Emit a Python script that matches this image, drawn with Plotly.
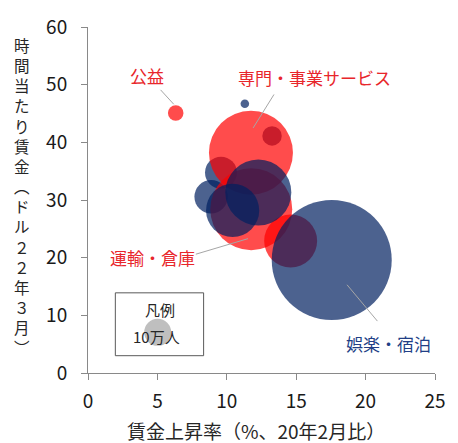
import plotly.graph_objects as go

FONT = "Noto Sans CJK JP"
RED = "rgba(255,0,0,0.7)"
NAVY = "rgba(0,32,96,0.7)"
RED_TEXT = "#E8262B"
NAVY_TEXT = "#223F86"
AXIS = "#898989"

# ---- data (bubbles listed in drawing order) ----
wage_growth = [9.58, 13.26, 8.87, 11.74, 11.76, 14.6, 6.32, 12.27, 10.42, 17.56, 11.3]   # %, vs Feb-2020
hourly_wage = [34.75, 41.1, 30.56, 38.2, 28.4, 22.9, 45.1, 31.3, 28.2, 19.6, 46.7]       # USD, Mar-2022
employment = [14.0, 5.2, 15.3, 96.8, 92.2, 38.5, 3.3, 59.8, 38.8, 197.5, 1.0]           # 万人
group = ["navy", "navy", "navy", "red", "red", "red", "red", "navy", "navy", "navy", "navy"]

legend_value = [10]          # 10万人
legend_text = "10万人"

# labelled industries
label_text = ["公益", "専門・事業サービス", "運輸・倉庫", "娯楽・宿泊"]
label_x = [4.23, 16.29, 4.66, 21.64]
label_y = [51.6, 51.3, 20.0, 5.1]
label_color = [RED_TEXT, RED_TEXT, RED_TEXT, NAVY_TEXT]
leader_x0 = [5.23, 13.40, 7.77, 18.66]
leader_y0 = [49.1, 48.3, 20.6, 15.3]
leader_x1 = [6.18, 11.90, 11.53, 20.85]
leader_y1 = [46.6, 42.5, 23.3, 9.0]

x_ticks = [0, 5, 10, 15, 20, 25]
y_ticks = [0, 10, 20, 30, 40, 50, 60]

y_title = "時間当たり賃金︵ドル２２年３月︶"
x_title = "賃金上昇率（%、20年2月比）"

LEGEND_R = 13.5
sizeref = legend_value[0] / (2 * LEGEND_R ** 2)

colors = [RED if g == "red" else NAVY for g in group]

fig = go.Figure()
fig.add_trace(go.Scatter(
    x=wage_growth, y=hourly_wage, mode="markers",
    marker=dict(size=employment, sizemode="area", sizeref=sizeref, opacity=1,
                color=colors, line=dict(width=0)),
    hoverinfo="skip", cliponaxis=False,
))

# legend box
fig.add_shape(type="rect", xref="x", yref="y", x0=1.97, x1=8.33, y0=3.0, y1=13.9,
              line=dict(color="#595959", width=1), fillcolor="rgba(0,0,0,0)")
fig.add_trace(go.Scatter(
    x=[5.02], y=[7.05], mode="markers",
    marker=dict(size=legend_value, sizemode="area", sizeref=sizeref, opacity=1,
                color="#BFBFBF", line=dict(width=0)),
    hoverinfo="skip",
))
fig.add_annotation(x=5.17, y=11.0, xref="x", yref="y", text="凡例", showarrow=False,
                   font=dict(family=FONT, size=15, color="#262626"))
fig.add_annotation(x=4.93, y=6.4, xref="x", yref="y", text=legend_text, showarrow=False,
                   font=dict(family=FONT, size=15, color="#262626"))

# labels and leader lines
for t, x, y, c, x0, y0, x1, y1 in zip(label_text, label_x, label_y, label_color,
                                      leader_x0, leader_y0, leader_x1, leader_y1):
    fig.add_shape(type="line", xref="x", yref="y", x0=x0, y0=y0, x1=x1, y1=y1,
                  line=dict(color="#A6A6A6", width=1))
    fig.add_annotation(x=x, y=y, xref="x", yref="y", text=t, showarrow=False,
                       font=dict(family=FONT, size=17, color=c))

# vertical y-axis title (upright characters stacked)
PLOT_L, PLOT_R, PLOT_TOP, PLOT_BOTTOM = 88, 443, 21, 373
fig.add_annotation(x=(20 - PLOT_L) / (PLOT_R - PLOT_L),
                   y=(PLOT_BOTTOM - 193) / (PLOT_BOTTOM - PLOT_TOP),
                   xref="paper", yref="paper",
                   text="<br>".join(list(y_title)), showarrow=False,
                   xanchor="center", yanchor="middle", align="center",
                   font=dict(family=FONT, size=15.5, color="#262626"))

fig.add_annotation(x=(259.5 - PLOT_L) / (PLOT_R - PLOT_L),
                   y=(PLOT_BOTTOM - 432) / (PLOT_BOTTOM - PLOT_TOP),
                   xref="paper", yref="paper",
                   text=x_title, showarrow=False,
                   xanchor="center", yanchor="middle",
                   font=dict(family=FONT, size=19, color="#262626"))

axis_common = dict(showgrid=False, zeroline=False, showline=True, linecolor=AXIS,
                   linewidth=1, ticks="outside", ticklen=6, tickcolor=AXIS, tickwidth=1,
                   tickfont=dict(family=FONT, size=19, color="#1A1A1A"), fixedrange=True)

fig.update_xaxes(range=[0, 25], tickvals=x_ticks, ticklabelstandoff=5, **axis_common)
fig.update_yaxes(range=[0, 60], tickvals=y_ticks, ticklabelstandoff=10, **axis_common)

fig.update_layout(width=458, height=443, margin=dict(l=88, r=15, t=21, b=70, pad=0),
                  plot_bgcolor="white", paper_bgcolor="white", showlegend=False,
                  font=dict(family=FONT))

fig.write_html("out.html")
